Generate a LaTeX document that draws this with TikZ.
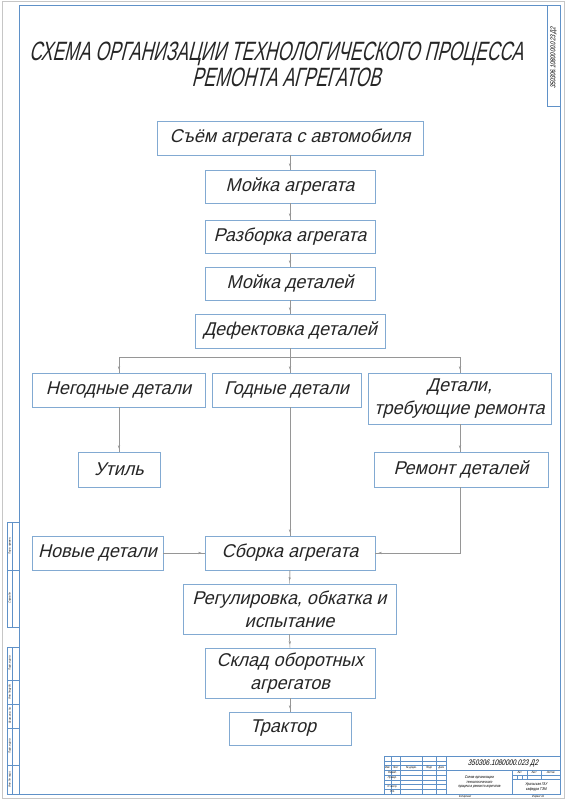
\documentclass[tikz,border=0pt]{standalone}
\usepackage{fontspec}
\setmainfont{Liberation Sans}
\newfontfamily\gost{Liberation Sans}[FakeSlant=0.25,FakeStretch=0.97]
\newfontfamily\gostn{Liberation Sans}[FakeSlant=0.25,FakeStretch=0.8]
\newfontfamily\gostt{Liberation Sans}[FakeSlant=0.25,FakeStretch=0.66]
\usetikzlibrary{arrows.meta}
\definecolor{frameblue}{RGB}{95,145,200}
\definecolor{boxblue}{RGB}{130,170,210}
\definecolor{conngray}{RGB}{150,150,150}
\begin{document}
\begin{tikzpicture}[x=1pt,y=-1pt,
  box/.style={draw=boxblue, line width=0.8pt, inner sep=0pt, align=center,
    font=\gost\fontsize{18.5}{23}\selectfont, text=black!85},
  conn/.style={draw=conngray, line width=0.5pt},
  arr/.style={conn, -{Stealth[length=3.5pt,width=2.4pt]}, shorten >=3pt},
  frm/.style={draw=frameblue, line width=0.7pt},
  thn/.style={draw=frameblue, line width=0.35pt},
  tiny/.style={font=\gostn\fontsize{3}{3.5}\selectfont, inner sep=0pt, align=center},
  small/.style={font=\gostn\fontsize{4}{4.6}\selectfont, inner sep=0pt, align=center},
  ttl/.style={font=\gostt\fontsize{26.5}{32}\selectfont, inner sep=0pt, anchor=base, text=black!85},
]
\useasboundingbox (0,0) rectangle (566,800);
\fill[white] (0,0) rectangle (566,800);
\draw[gray!45, line width=1pt] (2,2) rectangle (564,798);
% main frame
\draw[frm] (19,5) rectangle (560,794);
\draw[frm] (547,5) rectangle (560,106);
\node[rotate=90, font=\gostn\fontsize{7}{8}\selectfont, inner sep=0pt] (code) at (553.5,58) {350306.1080000.023 Д2};
% left strips
\draw[frm] (7.5,522) rectangle (19,627);
\draw[frm] (7.5,570) -- (19,570);
\draw[thn] (12.3,522) -- (12.3,627);
\draw[frm] (7.5,647) rectangle (19,794);
\foreach \yy in {680,704,728,765} \draw[frm] (7.5,\yy) -- (19,\yy);
\draw[thn] (12.3,647) -- (12.3,794);
\node[tiny, rotate=90] (s1) at (9.9,546) {Перв. примен.};
\node[tiny, rotate=90] (s2) at (9.9,598) {Справ. №};
\node[tiny, rotate=90] (s3) at (9.9,663.5) {Подп. и дата};
\node[tiny, rotate=90] (s4) at (9.9,692) {Инв. № дубл.};
\node[tiny, rotate=90] (s5) at (9.9,716) {Взам. инв. №};
\node[tiny, rotate=90] (s6) at (9.9,746.5) {Подп. и дата};
\node[tiny, rotate=90] (s7) at (9.9,779.5) {Инв. № подл.};
% title block
\draw[frm] (384,756) rectangle (560,794);
\foreach \xx in {390.8,400.3,422.1,436.4} \draw[thn] (\xx,756) -- (\xx,794);
\draw[frm] (445.9,756) -- (445.9,794);
\foreach \yy in {760.8,765.5,770.3,779.8,784.5,789.3} \draw[thn] (384,\yy) -- (445.9,\yy);
\draw[frm] (384,775) -- (445.9,775);
\draw[frm] (445.9,770.3) -- (560,770.3);
\draw[frm] (512.5,770.3) -- (512.5,794);
\draw[thn] (512.5,775) -- (560,775);
\draw[frm] (512.5,779.8) -- (560,779.8);
\draw[thn] (526.8,770.3) -- (526.8,779.8);
\draw[thn] (541,770.3) -- (541,779.8);
\draw[thn] (517.3,775) -- (517.3,779.8);
\draw[thn] (522,775) -- (522,779.8);
\node[tiny] (h1) at (387.4,767.9) {Изм.};
\node[tiny] (h2) at (395.5,767.9) {Лист};
\node[tiny] (h3) at (411.2,767.9) {№ докум.};
\node[tiny] (h4) at (429.2,767.9) {Подп.};
\node[tiny] (h5) at (441.1,767.9) {Дата};
\node[tiny] (r1) at (392.2,772.6) {Разраб.};
\node[tiny] (r2) at (392.2,777.4) {Провер.};
\node[tiny] (r3) at (392.2,786.9) {Н. контр.};
\node[tiny] (r4) at (392.2,791.6) {Утв.};
\node[font=\gostn\fontsize{8}{9}\selectfont, inner sep=0pt] (des) at (503,763.2) {350306.1080000.023 Д2};
\node[small] (nm) at (479.2,782.1) {Схема организации\\технологического\\процесса ремонта агрегатов};
\node[tiny] (l1) at (519.6,772.6) {Лит.};
\node[tiny] (l2) at (533.9,772.6) {Лист};
\node[tiny] (l3) at (550.5,772.6) {Листов};
\node[small] (org) at (536.2,786.9) {Уральская ГАУ\\кафедра ТЭМ};
\node[tiny] (kop) at (465,797.2) {Копировал};
\node[tiny] (fmt) at (538,797.2) {Формат А1};
% title
\node[ttl] (t1) at (276,60.5) {СХЕМА ОРГАНИЗАЦИИ ТЕХНОЛОГИЧЕСКОГО ПРОЦЕССА};
\node[ttl] (t2) at (286,86) {РЕМОНТА АГРЕГАТОВ};
% boxes
\node[box, minimum width=266pt, minimum height=34pt] (b1) at (290,138) {Съём агрегата с автомобиля};
\node[box, minimum width=170pt, minimum height=33pt] (b2) at (290,186.5) {Мойка агрегата};
\node[box, minimum width=170pt, minimum height=33pt] (b3) at (290,236.5) {Разборка агрегата};
\node[box, minimum width=170pt, minimum height=33pt] (b4) at (290,283.5) {Мойка деталей};
\node[box, minimum width=190pt, minimum height=34pt] (b5) at (290,331) {Дефектовка деталей};
\node[box, minimum width=173pt, minimum height=34pt] (neg) at (118.5,390) {Негодные детали};
\node[box, minimum width=149pt, minimum height=34pt] (god) at (286.5,390) {Годные детали};
\node[box, minimum width=183pt, minimum height=51pt] (det) at (459.5,398.5) {Детали,\\требующие ремонта};
\node[box, minimum width=82pt, minimum height=35pt] (util) at (119,469.5) {Утиль};
\node[box, minimum width=174pt, minimum height=35pt] (rem) at (461,469.5) {Ремонт деталей};
\node[box, minimum width=131pt, minimum height=34pt] (nov) at (97.5,553) {Новые детали};
\node[box, minimum width=170pt, minimum height=34pt] (sb) at (290,553) {Сборка агрегата};
\node[box, minimum width=213pt, minimum height=50pt] (reg) at (289.5,609) {Регулировка, обкатка и\\испытание};
\node[box, minimum width=170pt, minimum height=50pt] (sk) at (290,673) {Склад оборотных\\агрегатов};
\node[box, minimum width=122pt, minimum height=33pt] (tr) at (290,728.5) {Трактор\hspace{14pt}};
% connectors
\foreach \a/\b in {b1/b2,b2/b3,b3/b4,b4/b5,sb/reg,reg/sk,sk/tr} {
  \draw[conn] (\a.south) -- (\b.north);
  \draw[arr] (\a.south) -- (\b.north);
}
\coordinate (j) at (290,357);
\coordinate (jl) at (119,357);
\coordinate (jr) at (460,357);
\coordinate (rc) at (460,553);
\draw[conn] (b5.south) -- (j);
\draw[conn] (jl) -- (jr);
\draw[conn] (jl) -- (jl |- neg.north);  \draw[arr] (jl) -- (jl |- neg.north);
\draw[conn] (j) -- (j |- god.north);    \draw[arr] (j) -- (j |- god.north);
\draw[conn] (jr) -- (jr |- det.north);  \draw[arr] (jr) -- (jr |- det.north);
\draw[conn] (jl |- neg.south) -- (jl |- util.north); \draw[arr] (jl |- neg.south) -- (jl |- util.north);
\draw[conn] (jr |- det.south) -- (jr |- rem.north);  \draw[arr] (jr |- det.south) -- (jr |- rem.north);
\draw[conn] (j |- god.south) -- (j |- sb.north);     \draw[arr] (j |- god.south) -- (j |- sb.north);
\draw[conn] (jr |- rem.south) -- (rc) -- (sb.east);  \draw[arr] (jr |- rem.south) -- (rc) -- (sb.east);
\draw[conn] (nov.east) -- (sb.west);  \draw[arr] (nov.east) -- (sb.west);
\end{tikzpicture}
\end{document}
